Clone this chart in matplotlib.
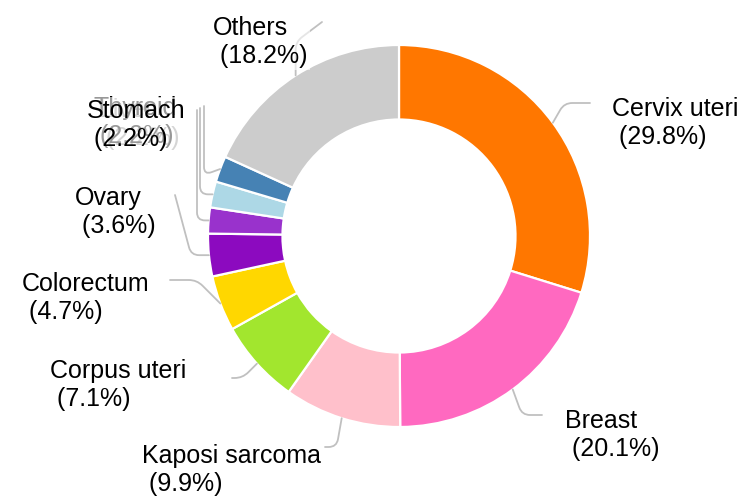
import numpy as np
import matplotlib.pyplot as plt

# cancer sites, clockwise from 12 o'clock
sites = ['Cervix uteri', 'Breast', 'Kaposi sarcoma', 'Corpus uteri', 'Colorectum',
         'Ovary', 'Liver', 'Thyroid', 'Stomach', 'Others']
pcts = [29.8, 20.1, 9.9, 7.1, 4.7, 3.6, 2.2, 2.2, 2.2, 18.2]
colors = ['#ff7700', '#ff69c0', '#ffc0cb', '#a2e62e', '#ffd700',
          '#8c0abf', '#9932cc', '#add8e6', '#4682b4', '#cccccc']

W, H = 747, 499
cx, cy, R = 399, H - 236, 191

# label layout in pixel coords (left x, centre y), end of leader line, line angles
label_pos = [(612, 123), (565, 435), (142, 470), (50, 385), (22, 298),
             (75, 212), (99, 124), (93, 122), (87, 125), (213, 42)]
line_end = [(590, 103), (542, 415), (325, 447), (232, 378), (170, 280),
            (175, 195), (197, 110), (200, 108), (204, 106), (322, 22)]
line_ang = [(0, 60), (0, -70), (0, 80), (0, 45), (0, 135),
            (-75, 0), (90, 0), (90, 0), (90, 20), (37, 90)]

plt.rcParams['font.family'] = ['Liberation Sans', 'DejaVu Sans']

fig = plt.figure(figsize=(W / 100, H / 100), dpi=100)
ax = fig.add_axes([0, 0, 1, 1])

ax.pie(pcts, colors=colors, startangle=90, counterclock=False,
       center=(cx, cy), radius=R,
       wedgeprops=dict(width=R * 0.39, edgecolor='white', linewidth=1.6))

# pie() resets the limits, so set them afterwards
ax.set_xlim(0, W)
ax.set_ylim(0, H)
ax.set_aspect('equal')
ax.axis('off')

# mid angle of each slice, measured clockwise from the top
vals = np.array(pcts)
mid = (np.cumsum(vals) - vals / 2) / vals.sum() * 2 * np.pi
ex = cx + R * np.sin(mid)
ey = cy + R * np.cos(mid)

for i, name in enumerate(sites):
    (tx, ty), (a, b) = line_end[i], line_ang[i]
    ax.annotate('', xy=(ex[i], ey[i]), xytext=(tx, H - ty),
                arrowprops=dict(arrowstyle='-', color='#c0c0c0', lw=1.3,
                                shrinkA=0, shrinkB=0,
                                connectionstyle=f'angle,angleA={a},angleB={b},rad=8'))

for i, name in enumerate(sites):
    lx, ly = label_pos[i]
    ax.text(lx, H - ly, f'{name}\n ({pcts[i]}%)', ha='left', va='center',
            fontsize=18, color='black', linespacing=1.2,
            bbox=dict(boxstyle='square,pad=0.1', facecolor='white',
                      edgecolor='none', alpha=0.6))

fig.savefig('out.png', dpi=100)
